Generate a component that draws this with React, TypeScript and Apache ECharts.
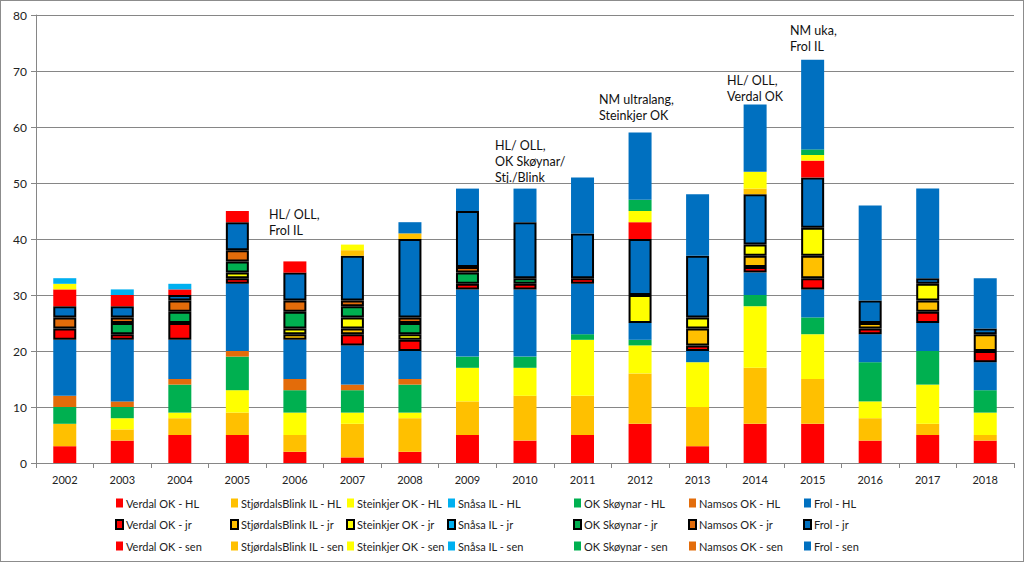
import React, { useEffect, useRef } from 'react';
import * as echarts from 'echarts';

const years = ['2002', '2003', '2004', '2005', '2006', '2007', '2008', '2009', '2010', '2011', '2012', '2013', '2014', '2015', '2016', '2017', '2018'];

const clubs = ['Verdal OK', 'StjørdalsBlink IL', 'Steinkjer OK', 'Snåsa IL', 'OK Skøynar', 'Namsos OK', 'Frol'];
const clubColors = ['#FF0000', '#FFC000', '#FFFF00', '#00B0F0', '#00B050', '#E36C0A', '#0070C0'];

// HL
const verdalHL = [3, 4, 5, 5, 2, 1, 2, 5, 4, 5, 7, 3, 7, 7, 4, 5, 4];
const stjordalHL = [4, 2, 3, 4, 3, 6, 6, 6, 8, 7, 9, 7, 10, 8, 4, 2, 1];
const steinkjerHL = [0, 2, 1, 4, 4, 2, 1, 6, 5, 10, 5, 8, 11, 8, 3, 7, 4];
const snasaHL = [0, 0, 0, 0, 0, 0, 0, 0, 0, 0, 0, 0, 0, 0, 0, 0, 0];
const skoynarHL = [3, 2, 5, 6, 4, 4, 5, 2, 2, 1, 1, 0, 2, 3, 7, 6, 4];
const namsosHL = [2, 1, 1, 1, 2, 1, 1, 0, 0, 0, 0, 0, 0, 0, 0, 0, 0];
const frolHL = [10, 11, 7, 12, 7, 7, 5, 12, 12, 9, 3, 2, 4, 5, 5, 5, 5];

// jr
const verdalJr = [2, 1, 3, 1, 0, 2, 2, 1, 1, 1, 0, 1, 1, 2, 1, 2, 2];
const stjordalJr = [0, 0, 0, 0, 1, 1, 0, 0, 0, 0, 0, 3, 2, 4, 1, 2, 3];
const steinkjerJr = [0, 0, 0, 1, 1, 2, 1, 0, 0, 0, 5, 2, 2, 5, 0, 3, 0];
const snasaJr = [0, 0, 0, 0, 0, 0, 0, 0, 0, 0, 0, 0, 0, 0, 0, 0, 0];
const skoynarJr = [0, 2, 2, 2, 3, 2, 2, 2, 1, 0, 0, 0, 0, 0, 0, 0, 0];
const namsosJr = [2, 1, 2, 2, 2, 1, 1, 1, 0, 0, 0, 0, 0, 0, 0, 0, 0];
const frolJr = [2, 2, 1, 5, 5, 8, 14, 10, 10, 8, 10, 11, 9, 9, 4, 1, 1];

// sen
const verdalSen = [3, 2, 1, 2, 2, 0, 0, 0, 0, 0, 3, 0, 0, 3, 0, 0, 0];
const stjordalSen = [0, 0, 0, 0, 0, 1, 1, 0, 0, 0, 0, 0, 1, 0, 0, 0, 0];
const steinkjerSen = [1, 0, 0, 0, 0, 1, 0, 0, 0, 0, 2, 0, 3, 1, 0, 0, 0];
const snasaSen = [1, 1, 1, 0, 0, 0, 0, 0, 0, 0, 0, 0, 0, 0, 0, 0, 0];
const skoynarSen = [0, 0, 0, 0, 0, 0, 0, 0, 0, 0, 2, 0, 0, 1, 0, 0, 0];
const namsosSen = [0, 0, 0, 0, 0, 0, 0, 0, 0, 0, 0, 0, 0, 0, 0, 0, 0];
const frolSen = [0, 0, 0, 0, 0, 0, 2, 4, 6, 10, 12, 11, 12, 16, 17, 16, 9];

const hlData = [verdalHL, stjordalHL, steinkjerHL, snasaHL, skoynarHL, namsosHL, frolHL];
const jrData = [verdalJr, stjordalJr, steinkjerJr, snasaJr, skoynarJr, namsosJr, frolJr];
const senData = [verdalSen, stjordalSen, steinkjerSen, snasaSen, skoynarSen, namsosSen, frolSen];

const groups = [
  { suffix: 'HL', data: hlData, border: false },
  { suffix: 'jr', data: jrData, border: true },
  { suffix: 'sen', data: senData, border: false },
];

const annotations = [
  { text: 'HL/ OLL,\nFrol IL', x: 268, y: 205 },
  { text: 'HL/ OLL,\nOK Skøynar/\nStj./Blink', x: 494, y: 136 },
  { text: 'NM ultralang,\nSteinkjer OK', x: 598, y: 90 },
  { text: 'HL/ OLL,\nVerdal OK', x: 726, y: 71 },
  { text: 'NM uka,\nFrol IL', x: 789, y: 21 },
];

const legendCols = [114, 229, 345, 446, 572, 687, 802];

const seriesName = (club: string, suffix: string) => `${club} - ${suffix}`;

export default function App() {
  const ref = useRef<HTMLDivElement>(null);

  useEffect(() => {
    document.body.style.margin = '0';
    if (!ref.current) return;
    const chart = echarts.init(ref.current, null, { renderer: 'svg' });

    const series: any[] = [];
    groups.forEach((g) => {
      clubs.forEach((club, i) => {
        series.push({
          name: seriesName(club, g.suffix),
          type: 'bar',
          stack: 'total',
          barWidth: 23,
          data: g.data[i].map((v) => (v === 0 ? null : v)),
          itemStyle: {
            color: clubColors[i],
            borderColor: g.border ? '#000000' : clubColors[i],
            borderWidth: g.border ? 2 : 0,
          },
          emphasis: { disabled: true },
        });
      });
    });

    const legends = clubs.map((club, i) => ({
      orient: 'vertical',
      left: legendCols[i],
      top: 496,
      padding: 0,
      itemGap: 9.5,
      itemWidth: 7,
      itemHeight: 9,
      icon: 'rect',
      selectedMode: false,
      textStyle: { fontFamily: 'Lato', fontSize: 11, color: '#222', lineHeight: 12, padding: [0, 0, 0, -2] },
      data: groups.map((g) => seriesName(club, g.suffix)),
    }));

    chart.setOption({
      animation: false,
      backgroundColor: '#ffffff',
      grid: { left: 35, right: 9, top: 14, bottom: 98, containLabel: false },
      xAxis: {
        type: 'category',
        data: years,
        axisLine: { show: true, lineStyle: { color: '#868686', width: 1 } },
        axisTick: { show: true, alignWithLabel: false, length: 5, lineStyle: { color: '#868686' } },
        axisLabel: { fontFamily: 'Lato', fontSize: 11, color: '#222', margin: 11 },
      },
      yAxis: {
        type: 'value',
        min: 0,
        max: 80,
        interval: 10,
        axisLine: { show: true, lineStyle: { color: '#868686', width: 1 } },
        axisTick: { show: true, length: 5, lineStyle: { color: '#868686' } },
        axisLabel: { fontFamily: 'Lato', fontSize: 12, color: '#222', margin: 9 },
        splitLine: { show: true, lineStyle: { color: '#868686', width: 1 } },
      },
      legend: legends,
      graphic: annotations.map((a) => ({
        type: 'text',
        left: a.x,
        top: a.y,
        style: {
          text: a.text,
          fontFamily: 'Lato',
          fontSize: 12.5,
          lineHeight: 16,
          fill: '#111',
        },
      })),
      series,
    });

    return () => chart.dispose();
  }, []);

  return (
    <div
      ref={ref}
      style={{ width: 1024, height: 562, boxSizing: 'border-box', border: '1px solid #8c8c8c' }}
    />
  );
}
